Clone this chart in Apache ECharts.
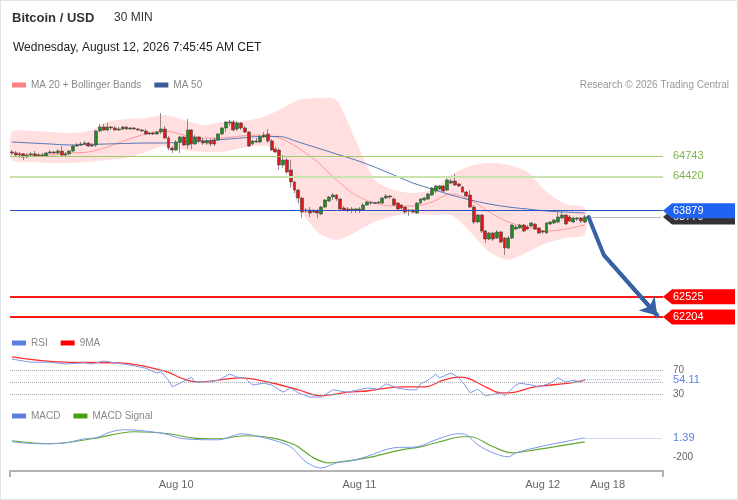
<!DOCTYPE html>
<html><head><meta charset="utf-8">
<script src="https://cdn.jsdelivr.net/npm/echarts@6/dist/echarts.min.js"></script>
<style>
html,body{margin:0;padding:0;background:#fff}
#wrap{position:relative;width:738px;height:500px}
#c{width:738px;height:500px}
#frame{position:absolute;left:0;top:0;width:738px;height:500px;box-sizing:border-box;border:1px solid #dfe3e6;pointer-events:none}
</style>
</head><body><div id="wrap"><div id="c"></div><div id="frame"></div></div>
<script>
// ---------- DATA ----------
// 30-min candles [open, close, low, high]
const ohlc = [
[64803,64787,64755,64834],[64787,64755,64740,64818],[64755,64771,64708,64803],[64771,64724,64677,64787],[64724,64755,64708,64771],
[64755,64771,64740,64803],[64771,64740,64724,64818],[64740,64755,64724,64787],[64755,64740,64724,64787],[64740,64787,64724,64803],
[64787,64803,64771,64834],[64803,64787,64771,64818],[64787,64818,64771,64850],[64818,64755,64740,64897],[64755,64771,64740,64803],
[64771,64818,64755,64834],[64818,64897,64803,64913],[64897,64913,64881,64944],[64913,64929,64897,64960],[64929,64944,64913,64976],
[64944,64897,64881,64960],[64897,64913,64881,64944],[64913,65133,64881,65149],[65133,65196,65118,65244],[65196,65149,65133,65244],
[65149,65196,65133,65259],[65196,65181,65149,65212],[65181,65149,65133,65212],[65149,65165,65133,65196],[65165,65196,65149,65212],
[65196,65165,65149,65212],[65165,65181,65149,65196],[65181,65165,65149,65196],[65165,65149,65133,65181],[65149,65133,65118,65165],
[65133,65086,65070,65165],[65086,65102,65070,65118],[65102,65086,65070,65118],[65086,65118,65070,65133],[65118,65165,65086,65417],
[65165,65023,65007,65212],[65023,64866,64834,65055],[64866,64834,64787,64897],[64834,64960,64818,64992],[64960,65039,64787,65055],
[65039,64913,64897,65055],[64913,65149,64850,65322],[65149,64929,64850,65165],[64929,65039,64913,65070],[65039,64976,64944,65055],
[64976,64944,64913,65023],[64944,64976,64913,65007],[64976,64929,64897,65007],[64992,64929,64897,65023],[64992,65086,64976,65102],
[65086,65181,65070,65196],[65181,65275,65118,65291],[65259,65275,65212,65307],[65275,65149,65133,65307],[65165,65259,65133,65291],
[65259,65181,65149,65275],[65181,65118,65102,65212],[65118,64897,64881,65133],[64929,64976,64913,64992],[64976,64960,64944,65023],
[64960,65039,64944,65070],[65039,65070,65023,65118],[65086,64976,64944,65165],[64976,64834,64818,65007],[64850,64803,64787,64881],
[64834,64598,64519,64866],[64598,64677,64551,64755],[64677,64488,64456,64708],[64519,64330,64236,64677],[64330,64204,64157,64346],
[64204,64078,63999,64220],[64078,63858,63763,64094],[63873,63889,63842,63921],[63889,63842,63779,63936],[63858,63873,63842,63905],
[63873,63842,63763,63905],[63826,63936,63810,63952],[63936,64047,63921,64062],[64031,64094,64015,64110],[64094,64125,64047,64157],
[64125,64062,64031,64141],[64062,63905,63889,64078],[63921,63889,63873,63952],[63905,63889,63858,63936],[63889,63905,63842,63936],
[63889,63905,63842,63921],[63905,63889,63842,63936],[63889,63968,63873,63999],[63968,64015,63952,64031],[63999,64007,63968,64031],
[64007,63991,63984,64015],[63999,64015,63984,64031],[63999,64078,63984,64094],[64078,64110,64062,64141],[64110,64094,64062,64125],
[64062,63968,63952,64094],[63999,63905,63889,64015],[63968,63921,63889,63984],[63936,63858,63826,63952],[63889,63873,63795,63905],
[63889,63858,63842,63905],[63842,63999,63826,64015],[63999,64062,63984,64078],[64047,64078,64031,64094],[64062,64141,64047,64157],
[64125,64236,64110,64251],[64188,64267,64157,64283],[64220,64267,64204,64283],[64267,64188,64173,64283],[64204,64362,64188,64409],
[64314,64346,64299,64377],[64346,64283,64267,64456],[64299,64267,64251,64314],[64251,64173,64157,64267],[64173,64110,64094,64188],
[64125,63936,63921,64204],[63936,63700,63669,63968],[63700,63810,63684,63826],[63810,63558,63527,63826],[63558,63432,63369,63574],
[63432,63527,63417,63543],[63527,63432,63401,63543],[63448,63543,63432,63574],[63543,63385,63369,63558],[63448,63291,63181,63464],
[63291,63448,63275,63480],[63448,63653,63432,63669],[63590,63621,63574,63653],[63606,63653,63590,63669],[63653,63558,63543,63669],
[63621,63590,63574,63653],[63637,63684,63621,63700],[63669,63590,63574,63684],[63606,63527,63511,63621],[63558,63543,63511,63574],
[63527,63684,63511,63700],[63669,63700,63653,63716],[63684,63732,63669,63747],[63700,63779,63684,63858],[63763,63810,63747,63858],
[63810,63669,63653,63826],[63779,63716,63700,63810],[63700,63763,63684,63779],[63747,63763,63716,63779],[63763,63716,63684,63779],
[63700,63779,63684,63810]
];
const firstCandle = '2026-08-09T02:30:00Z';
const futureSlots = ['f1','f2','f3','f4','f5','2026-08-18 00:00','f7','f8','f9','f10','f11','f12','f13','f14','f15','f16','f17','f18','f19','f20'];
const monthNames = ['Jan','Feb','Mar','Apr','May','Jun','Jul','Aug','Sep','Oct','Nov','Dec'];

// Indicator samples (candle index -> value)
const bandIdx = [0,5,10,15,20,25,30,35,40,45,50,55,60,65,70,75,80,85,90,95,100,105,110,115,120,125,130,135,140,145,150];
const ma20 = [64787,64771,64755,64787,64803,64881,64992,65086,65133,65070,65023,65023,65055,65070,65023,64866,64645,64362,64125,63999,63952,63952,64015,64141,64047,63858,63700,63621,63558,63590,63653];
const ma50 = [64960,64944,64929,64913,64921,64929,64937,64944,64944,64960,64976,64999,65023,65047,65047,64960,64866,64771,64677,64566,64440,64314,64220,64125,64047,63984,63936,63905,63873,63858,63842];
const bbUpper = [65118,65133,65118,65102,65133,65275,65322,65338,65385,65307,65228,65275,65291,65338,65464,65621,65653,65621,64992,64362,64204,64157,64204,64440,64582,64629,64598,64488,64173,63984,63921];
const bbLower = [64677,64645,64629,64629,64645,64677,64708,64803,64897,64834,64803,64803,64866,64897,64834,63968,63543,63417,63543,63700,63795,63826,63810,63810,63543,63228,63102,63228,63369,63448,63495];

const rsiIdx = [0,5,10,14,19,21,24,27,32,35,38,39,41,42,44,47,48,51,54,57,59,61,63,66,68,71,73,75,78,81,84,88,93,96,98,101,104,106,107,109,111,112,115,117,118,120,122,124,128,129,132,133,136,138,141,143,145,147,149,150];
const rsiVal = [88,83,83,80,82,80,85,82,77,73,65,67,53,42,48,58,50,50,53,63,58,57,45,48,45,33,40,32,25,25,37,33,40,38,47,40,37,37,47,53,63,57,65,57,50,32,38,27,32,27,45,48,45,42,48,57,50,53,50,54.11];
const rsiMaIdx = [0,14,28,40,45,49,60,67,75,81,88,93,102,108,113,117,119,124,128,130,137,146,150];
const rsiMaVal = [92,83,82,68,55,50,57,50,37,27,33,35,42,42,53,58,57,42,32,32,42,48,53];
const rsiLevels = [70,50,30];

const macdIdx = [0,7,14,19,22,26,30,34,40,45,54,58,60,65,69,73,77,81,85,89,93,100,106,111,117,119,122,126,130,132,137,142,146,150];
const macdVal = [-41,-62,-52,-9,1,65,86,76,44,-9,-20,23,44,12,-30,-94,-253,-317,-264,-242,-195,-105,-94,-20,44,33,-73,-158,-200,-158,-105,-62,-30,1.39];
const signalIdx = [0,10,21,32,41,47,54,61,68,74,79,83,88,93,102,107,112,118,120,126,131,137,142,150];
const signalVal = [-30,-62,-9,65,44,1,-9,23,1,-73,-211,-264,-242,-211,-126,-94,-41,12,12,-94,-158,-126,-94,-41];

// Key levels and forecast path
const levelValues = [64743,64420,63879,62525,62204];
const levelKinds = ['resistance','resistance','pivot','support','support'];
const forecastIdx = [151,155,169];
const forecastVal = [63779,63181,62230];

// ---------- BUILD ----------
const FONT = '"Liberation Sans", Arial, Helvetica, sans-serif';
const t0 = Date.parse(firstCandle);
const candleTimes = ohlc.map((_, i) => new Date(t0 + i * 1800000).toISOString().slice(0,16).replace('T',' '));
const categories = candleTimes.concat(futureSlots);
const lastIdx = ohlc.length - 1;
const lastClose = ohlc[lastIdx][1];
const lastSlot = categories.length - 1;
const pairs = (ix, vs) => ix.map((x, k) => [x, vs[k]]);

function dayLabel(v) {
  if (!/^\d{4}-\d\d-\d\d 00:00$/.test(v)) return '';
  return monthNames[+v.slice(5,7) - 1] + ' ' + (+v.slice(8,10));
}

const lineStyleFor = {
  resistance: [{color:'#9ccc65', width:1}, {color:'#c8e3ac', width:2}],
  pivot: {color:'#2a52be', width:1},
  support: {color:'#ff1a1a', width:2}
};
let resCount = 0;
const levelLines = levelValues.map((v, k) => {
  const kind = levelKinds[k];
  const ls = kind === 'resistance' ? lineStyleFor.resistance[resCount++] : lineStyleFor[kind];
  return { yAxis: v, lineStyle: Object.assign({type:'solid'}, ls) };
});

const tagStyle = {
  current: {bg:'#333333', fg:'#ffffff'},
  resistance: {bg:null, fg:'#7cb342'},
  pivot: {bg:'#1f63f2', fg:'#ffffff'},
  support: {bg:'#ff0000', fg:'#ffffff'}
};
const tagKinds = ['current'].concat(levelKinds);
const tagData = [[0, lastClose]].concat(levelValues.map(v => [0, v]));

function tagRender(params, api) {
  const cs = params.coordSys;
  const v = api.value(1);
  const y = api.coord([0, v])[1];
  const x0 = cs.x + cs.width;
  const st = tagStyle[tagKinds[params.dataIndex]];
  const h = 15, w = 72;
  const children = [];
  if (st.bg) {
    children.push({ type:'polygon', shape:{ points:[[x0,y],[x0+9,y-h/2],[x0+w,y-h/2],[x0+w,y+h/2],[x0+9,y+h/2]] }, style:{ fill: st.bg } });
  }
  children.push({ type:'text', style:{ text:String(v), x:x0+10, y:y, fill:st.fg, font:'11px ' + FONT, align:'left', verticalAlign:'middle' } });
  return { type:'group', children };
}

function bandRender(params, api) {
  const up = bandIdx.map((ix, k) => api.coord([ix, bbUpper[k]]));
  const lo = bandIdx.map((ix, k) => api.coord([ix, bbLower[k]])).reverse();
  return { type:'polygon', shape:{ points: up.concat(lo), smooth: 0.25 }, style:{ fill:'#ffdfdf' } };
}

const gridCommon = { left:10, right:75 };
const chart = echarts.init(document.getElementById('c'));
const option = {
  animation: false,
  textStyle: { fontFamily: FONT },
  title: [
    { text:'Bitcoin / USD', left:12, top:12, padding:0, textStyle:{ fontSize:13, fontWeight:'bold', color:'#333', fontFamily:FONT } },
    { text:'30 MIN', left:114, top:12, padding:0, textStyle:{ fontSize:12, fontWeight:'normal', color:'#333', fontFamily:FONT } },
    { text:'Wednesday, August 12, 2026 7:45:45 AM CET', left:13, top:42, padding:0, textStyle:{ fontSize:12, fontWeight:'normal', color:'#222', fontFamily:FONT } },
    { text:'Research \u00a9 2026 Trading Central', right:9, top:80, padding:0, textStyle:{ fontSize:10, fontWeight:'normal', color:'#999', fontFamily:FONT } }
  ],
  legend: [
    { left:12, top:80, padding:0, icon:'rect', itemWidth:14, itemHeight:5, itemGap:13, selectedMode:false, textStyle:{ fontSize:10, color:'#888' }, data:['MA 20 + Bollinger Bands','MA 50'] },
    { left:12, top:338, padding:0, icon:'rect', itemWidth:14, itemHeight:5, itemGap:13, selectedMode:false, textStyle:{ fontSize:10, color:'#888' }, data:['RSI','9MA'] },
    { left:12, top:411, padding:0, icon:'rect', itemWidth:14, itemHeight:5, itemGap:13, selectedMode:false, textStyle:{ fontSize:10, color:'#888' }, data:['MACD','MACD Signal'] }
  ],
  grid: [
    Object.assign({ top:95, height:235 }, gridCommon),
    Object.assign({ top:352, height:60 }, gridCommon),
    Object.assign({ top:419, height:52 }, gridCommon)
  ],
  xAxis: [0,1,2].map(g => ({
    type:'category', gridIndex:g, data:categories, boundaryGap:true,
    axisLine:{ show:g===2, onZero:false, lineStyle:{ color:'#b3b3b3', width:2 } },
    axisTick:{ show:g===2, interval:(i) => i === 0, length:6, lineStyle:{ color:'#b3b3b3', width:2 } },
    axisLabel:{ show:g===2, interval:0, formatter:dayLabel, color:'#666', fontSize:11, margin:8 },
    splitLine:{ show:false }
  })),
  yAxis: [
    { gridIndex:0, type:'value', min:62000, max:65700, show:false, splitLine:{show:false} },
    { gridIndex:1, type:'value', min:0, max:100, interval:10, position:'right',
      axisLine:{show:false}, axisTick:{show:false}, splitLine:{show:false},
      axisLabel:{ formatter:(v) => (v === 70 || v === 30) ? String(v) : '', color:'#666', fontSize:10, margin:10 } },
    { gridIndex:2, type:'value', min:-350, max:200, interval:50, position:'right',
      axisLine:{show:false}, axisTick:{show:false}, splitLine:{show:false},
      axisLabel:{ formatter:(v) => v === -200 ? String(v) : '', color:'#666', fontSize:10, margin:10 } }
  ],
  series: [
    { type:'custom', name:'band', xAxisIndex:0, yAxisIndex:0, renderItem:bandRender, data:[0], z:1, silent:true },
    { type:'line', name:'MA 20 + Bollinger Bands', xAxisIndex:0, yAxisIndex:0, data:pairs(bandIdx, ma20), smooth:0.35, symbol:'none',
      lineStyle:{ color:'#ff9a9a', width:1 }, itemStyle:{ color:'#ff8080' }, z:2, silent:true },
    { type:'line', name:'MA 50', xAxisIndex:0, yAxisIndex:0, data:pairs(bandIdx, ma50), smooth:0.35, symbol:'none',
      lineStyle:{ color:'#5778b8', width:1 }, itemStyle:{ color:'#3b5b9a' }, z:2, silent:true },
    { type:'candlestick', name:'Bitcoin / USD', xAxisIndex:0, yAxisIndex:0, data:ohlc, barWidth:3.4, z:3,
      itemStyle:{ color:'#228b22', color0:'#e61515', borderColor:'#4a4a4a', borderColor0:'#4a4a4a', borderWidth:0.6 },
      markLine:{ silent:true, symbol:['none','none'], label:{show:false}, animation:false,
        data: levelLines.concat([[ { coord:[lastIdx + 1, lastClose], lineStyle:{ type:'dotted', color:'#777', width:1 } }, { coord:[lastSlot, lastClose] } ]]) } },
    { type:'line', name:'forecast', xAxisIndex:0, yAxisIndex:0, data:pairs(forecastIdx, forecastVal), symbol:'none', z:5,
      lineStyle:{ color:'#3761a5', width:4, cap:'round', join:'round' }, itemStyle:{ color:'#3761a5' }, silent:true,
      markLine:{ silent:true, symbol:['none','arrow'], symbolSize:16, label:{show:false}, animation:false,
        lineStyle:{ color:'#3761a5', width:4, type:'solid' }, itemStyle:{ color:'#3761a5' },
        data:[[ { coord:[forecastIdx[1], forecastVal[1]] }, { coord:[forecastIdx[2], forecastVal[2]] } ]] } },
    { type:'custom', name:'tags', xAxisIndex:0, yAxisIndex:0, renderItem:tagRender, data:tagData, clip:false, z:10, silent:true },
    { type:'line', name:'RSI', xAxisIndex:1, yAxisIndex:1, data:pairs(rsiIdx, rsiVal), symbol:'none',
      lineStyle:{ color:'#7c98ea', width:1 }, itemStyle:{ color:'#5b7fdf' }, z:3, silent:true,
      markLine:{ silent:true, symbol:['none','none'], animation:false,
        data: rsiLevels.map(v => ({ yAxis:v, label:{show:false}, lineStyle:{ type:'dotted', color:'#aaa', width:1 } })).concat([[
          { coord:[lastIdx, rsiVal[rsiVal.length-1]], lineStyle:{ type:'dotted', color:'#9db3f0', width:1 },
            label:{ show:true, position:'end', distance:12, formatter:String(rsiVal[rsiVal.length-1]), color:'#5b7fdf', fontSize:11 } },
          { coord:[lastSlot, rsiVal[rsiVal.length-1]] } ]]) } },
    { type:'line', name:'9MA', xAxisIndex:1, yAxisIndex:1, data:pairs(rsiMaIdx, rsiMaVal), smooth:0.4, symbol:'none',
      lineStyle:{ color:'#ff3030', width:1.3 }, itemStyle:{ color:'#ff0000' }, z:2, silent:true },
    { type:'line', name:'MACD', xAxisIndex:2, yAxisIndex:2, data:pairs(macdIdx, macdVal), smooth:0.35, symbol:'none',
      lineStyle:{ color:'#7c98ea', width:1 }, itemStyle:{ color:'#5b7fdf' }, z:3, silent:true,
      markLine:{ silent:true, symbol:['none','none'], animation:false,
        data:[[ { coord:[lastIdx, macdVal[macdVal.length-1]], lineStyle:{ type:'dotted', color:'#9db3f0', width:1 },
            label:{ show:true, position:'end', distance:12, formatter:String(macdVal[macdVal.length-1]), color:'#5b7fdf', fontSize:11 } },
          { coord:[lastSlot, macdVal[macdVal.length-1]] } ]] } },
    { type:'line', name:'MACD Signal', xAxisIndex:2, yAxisIndex:2, data:pairs(signalIdx, signalVal), smooth:0.35, symbol:'none',
      lineStyle:{ color:'#62a834', width:1.2 }, itemStyle:{ color:'#4a9c10' }, z:2, silent:true }
  ]
};
chart.setOption(option);
</script></body></html>
